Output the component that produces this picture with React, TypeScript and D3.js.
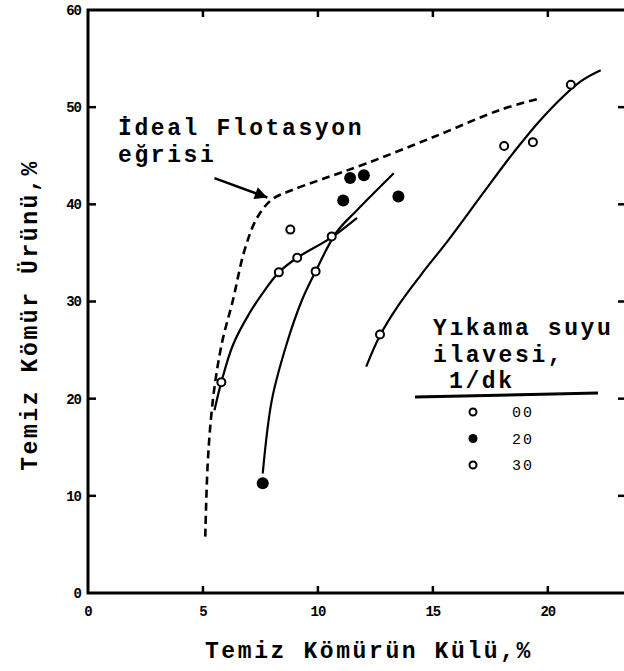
import React, { useEffect, useRef } from "react";
import * as d3 from "d3";

// values
const idealCurve: [number, number][] = [
  [5.1, 5.8], [5.2, 13.0], [5.35, 18.0], [5.55, 22.0], [5.85, 26.0], [6.3, 30.1],
  [6.8, 35.2], [7.35, 38.6], [8.0, 40.5], [8.8, 41.4], [10.2, 42.6],
  [12.1, 44.2], [15.0, 46.9], [17.9, 49.7], [19.65, 50.9],
];
const curveA: [number, number][] = [
  [5.5, 18.8], [5.8, 21.7], [6.3, 25.5], [7.0, 28.7], [7.7, 31.2], [8.3, 33.0],
  [9.1, 34.5], [10.6, 36.6], [11.7, 38.6],
];
const curveB: [number, number][] = [
  [7.6, 12.3], [8.0, 19.9], [8.65, 25.7], [9.3, 30.1], [9.9, 33.1],
  [10.8, 37.1], [11.7, 39.4], [13.3, 43.2],
];
const curveC: [number, number][] = [
  [12.1, 23.3], [12.7, 26.5], [13.5, 29.6], [14.5, 32.8], [15.7, 36.4],
  [17.2, 41.2], [18.5, 45.3], [19.8, 49.0], [21.4, 52.6], [22.3, 53.8],
];
const series00: [number, number][] = [
  [5.8, 21.7], [8.3, 33.0], [9.1, 34.5], [10.6, 36.7], [8.8, 37.4],
];
const series20: [number, number][] = [
  [7.6, 11.3], [11.1, 40.4], [11.4, 42.7], [12.0, 43.0], [13.5, 40.8],
];
const series30: [number, number][] = [
  [9.9, 33.1], [12.7, 26.6], [18.1, 46.0], [19.35, 46.4], [21.0, 52.3],
];
const xTicks = [0, 5, 10, 15, 20];
const yTicks = [0, 10, 20, 30, 40, 50, 60];
const legendLabels = ["00", "20", "30"];

const W = 624;
const H = 671;
const FONT = "'Liberation Mono', 'DejaVu Sans Mono', monospace";

export default function App() {
  const ref = useRef<SVGSVGElement | null>(null);

  useEffect(() => {
    const svg = d3.select(ref.current);
    svg.selectAll("*").remove();

    const x = d3.scaleLinear().domain([0, 23.4]).range([88, 626]);
    const y = d3.scaleLinear().domain([0, 60]).range([593, 10]);

    svg.append("rect").attr("width", W).attr("height", H).attr("fill", "#fff");

    // frame
    svg.append("rect")
      .attr("x", x(0)).attr("y", y(60))
      .attr("width", x(23.4) - x(0)).attr("height", y(0) - y(60))
      .attr("fill", "none").attr("stroke", "#000").attr("stroke-width", 3);

    const ticks = svg.append("g").attr("stroke", "#000").attr("stroke-width", 2.5);
    yTicks.filter((d) => d > 0 && d < 60).forEach((d) => {
      ticks.append("line").attr("x1", x(0)).attr("x2", x(0) + 8).attr("y1", y(d)).attr("y2", y(d));
      ticks.append("line").attr("x1", x(23.4)).attr("x2", x(23.4) - 8).attr("y1", y(d)).attr("y2", y(d));
    });
    xTicks.filter((d) => d > 0).forEach((d) => {
      ticks.append("line").attr("x1", x(d)).attr("x2", x(d)).attr("y1", y(0)).attr("y2", y(0) - 7);
      ticks.append("line").attr("x1", x(d)).attr("x2", x(d)).attr("y1", y(60)).attr("y2", y(60) + 7);
    });

    const lbl = svg.append("g").attr("font-family", FONT).attr("font-weight", "bold")
      .attr("font-size", 14).attr("fill", "#000");
    yTicks.forEach((d) => {
      lbl.append("text").attr("x", x(0) - 7).attr("y", y(d)).attr("dy", "0.35em")
        .attr("text-anchor", "end").attr("letter-spacing", -1).text(d);
    });
    xTicks.forEach((d) => {
      lbl.append("text").attr("x", x(d)).attr("y", y(0) + 23)
        .attr("text-anchor", "middle").attr("letter-spacing", -1).text(d);
    });

    const big = (sel: any) =>
      sel.attr("font-family", FONT).attr("font-weight", "bold").attr("font-size", 23)
        .attr("letter-spacing", 2.6).attr("fill", "#000");

    big(svg.append("text")).attr("x", 369).attr("y", 658).attr("text-anchor", "middle")
      .text("Temiz Kömürün Külü,%");
    big(svg.append("text")).attr("transform", "translate(37,315) rotate(-90)")
      .attr("text-anchor", "middle").text("Temiz Kömür Ürünü,%");

    // lines
    const line = d3.line<[number, number]>()
      .x((d) => x(d[0])).y((d) => y(d[1]))
      .curve(d3.curveCatmullRom.alpha(0.5));

    svg.append("path").attr("d", line(idealCurve)).attr("fill", "none")
      .attr("stroke", "#000").attr("stroke-width", 2.6).attr("stroke-dasharray", "8,5");
    [curveA, curveB, curveC].forEach((c) => {
      svg.append("path").attr("d", line(c)).attr("fill", "none")
        .attr("stroke", "#000").attr("stroke-width", 2.2);
    });

    // points
    const open = (pts: [number, number][]) =>
      pts.forEach((p) =>
        svg.append("circle").attr("cx", x(p[0])).attr("cy", y(p[1])).attr("r", 4)
          .attr("fill", "#fff").attr("stroke", "#000").attr("stroke-width", 2));
    open(series00);
    open(series30);
    series20.forEach((p) =>
      svg.append("circle").attr("cx", x(p[0])).attr("cy", y(p[1])).attr("r", 6).attr("fill", "#000"));

    // annotation
    big(svg.append("text")).attr("x", 118).attr("y", 135).text("İdeal Flotasyon");
    big(svg.append("text")).attr("x", 118).attr("y", 162).text("eğrisi");
    svg.append("defs").append("marker").attr("id", "arr")
      .attr("viewBox", "0 0 10 10").attr("refX", 10).attr("refY", 5)
      .attr("markerWidth", 6).attr("markerHeight", 5).attr("orient", "auto")
      .attr("markerUnits", "strokeWidth")
      .append("path").attr("d", "M0,0L10,5L0,10z").attr("fill", "#000");
    svg.append("line")
      .attr("x1", x(5.5)).attr("y1", y(42.7)).attr("x2", x(7.8)).attr("y2", y(40.7))
      .attr("stroke", "#000").attr("stroke-width", 2.5).attr("marker-end", "url(#arr)");

    // legend
    big(svg.append("text")).attr("x", 433).attr("y", 335).text("Yıkama suyu");
    big(svg.append("text")).attr("x", 433).attr("y", 362).text("ilavesi,");
    big(svg.append("text")).attr("x", 449).attr("y", 388).text("1/dk");
    svg.append("line").attr("x1", 415).attr("y1", 397).attr("x2", 598).attr("y2", 393)
      .attr("stroke", "#000").attr("stroke-width", 3);
    legendLabels.forEach((t, i) => {
      const cy = 412 + i * 26.5;
      if (i === 1) {
        svg.append("circle").attr("cx", 473).attr("cy", cy).attr("r", 4.5).attr("fill", "#000");
      } else {
        svg.append("circle").attr("cx", 473).attr("cy", cy).attr("r", 3.5)
          .attr("fill", "#fff").attr("stroke", "#000").attr("stroke-width", 2);
      }
      svg.append("text").attr("x", 512).attr("y", cy).attr("dy", "0.35em")
        .attr("font-family", FONT).attr("font-size", 15).attr("letter-spacing", 2)
        .attr("fill", "#000").text(t);
    });
  }, []);

  return (
    <svg
      ref={ref}
      width={W}
      height={H}
      style={{ position: "absolute", left: 0, top: 0, display: "block" }}
    />
  );
}
